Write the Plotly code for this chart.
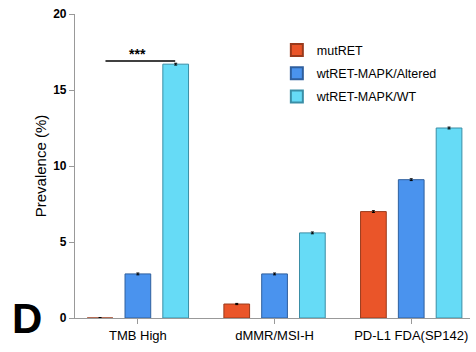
import plotly.graph_objects as go

categories = ["TMB High", "dMMR/MSI-H", "PD-L1 FDA(SP142)"]
series_names = ["mutRET", "wtRET-MAPK/Altered", "wtRET-MAPK/WT"]
mutRET = [0.0, 0.92, 7.0]
wt_altered = [2.9, 2.9, 9.1]
wt_wt = [16.7, 5.6, 12.5]
errors = [[0.03, 0.04, 0.06], [0.06, 0.06, 0.06], [0.06, 0.06, 0.06]]
y_ticks = [0, 5, 10, 15, 20]

colors = ["#EA5529", "#4A93EE", "#66DBF6"]
lines = ["#9a3a1c", "#2f5f9e", "#3a8ea6"]

fig = go.Figure()
for i, (name, vals, err, c, lc) in enumerate(zip(series_names, [mutRET, wt_altered, wt_wt], errors, colors, lines)):
    fig.add_trace(go.Bar(
        x=categories, y=vals, name=name, legendgroup=f"g{i}",
        marker=dict(color=c, line=dict(color=lc, width=1)),
        error_y=dict(type="data", array=err, visible=True, color="black", thickness=1, width=1.5),
    ))

fig.update_layout(
    width=476, height=352,
    margin=dict(l=75, r=6, t=14, b=34),
    plot_bgcolor="white", paper_bgcolor="white",
    barmode="group", bargap=0.17, bargroupgap=0.32,
    font=dict(family="Liberation Sans, Arial", color="black", size=13),
    showlegend=True,
    legend=dict(x=0.511, y=0.93, xanchor="left", yanchor="top", bgcolor="rgba(0,0,0,0)",
                font=dict(size=12.5), tracegroupgap=4, itemsizing="constant"),
    xaxis=dict(range=[-0.46, 2.43], showline=True, linecolor="#999", linewidth=1.2,
               ticks="outside", ticklen=5, tickcolor="#999", showgrid=False,
               tickfont=dict(size=13)),
    yaxis=dict(range=[0, 20], tickvals=y_ticks, showline=True, linecolor="#999", linewidth=1.2,
               ticks="outside", ticklen=5, tickcolor="#999", showgrid=False, zeroline=False,
               tickfont=dict(size=12, weight="bold"),
               title=dict(text="Prevalence (%)", font=dict(size=15), standoff=2)),
)

fig.add_shape(type="line", xref="x", yref="y", x0=-0.237, x1=0.273, y0=16.9, y1=16.9,
              line=dict(color="black", width=1.5))
fig.add_annotation(x=0.0, y=17.4, xref="x", yref="y", text="<b>***</b>", showarrow=False,
                   yanchor="middle", font=dict(size=14))
fig.add_annotation(xref="paper", yref="paper", x=(27 - 75) / 395, y=(318 - 318) / 304,
                   text="<b>D</b>", showarrow=False, font=dict(size=42),
                   xanchor="center", yanchor="middle")

fig.write_html("out.html", config={"displayModeBar": False},
               post_script="document.body.style.margin='0';")
